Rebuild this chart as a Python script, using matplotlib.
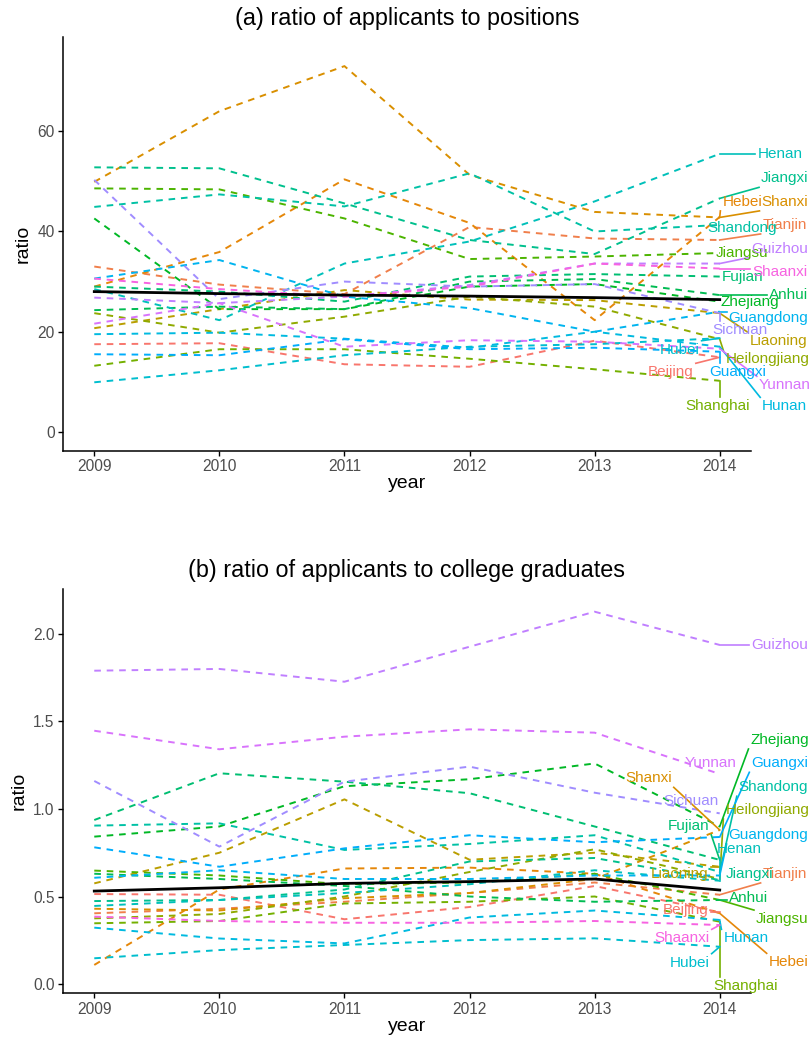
import numpy as np
import matplotlib
matplotlib.use('Agg')
import matplotlib.pyplot as plt

plt.rcParams['font.family'] = ['Liberation Sans', 'DejaVu Sans']

years = [2009, 2010, 2011, 2012, 2013, 2014]

# all 31 provinces, only used for the colour order of the palette
palette_order = ['Beijing', 'Tianjin', 'Hebei', 'Shanxi', 'Inner Mongolia', 'Liaoning', 'Jilin',
                 'Heilongjiang', 'Shanghai', 'Jiangsu', 'Zhejiang', 'Anhui', 'Fujian', 'Jiangxi',
                 'Shandong', 'Henan', 'Hubei', 'Hunan', 'Guangdong', 'Guangxi', 'Hainan',
                 'Chongqing', 'Sichuan', 'Guizhou', 'Yunnan', 'Tibet', 'Shaanxi', 'Gansu',
                 'Qinghai', 'Ningxia', 'Xinjiang']

provinces = ['Beijing', 'Tianjin', 'Hebei', 'Shanxi', 'Liaoning', 'Heilongjiang', 'Shanghai',
             'Jiangsu', 'Zhejiang', 'Anhui', 'Fujian', 'Jiangxi', 'Shandong', 'Henan', 'Hubei',
             'Hunan', 'Guangdong', 'Guangxi', 'Sichuan', 'Guizhou', 'Yunnan', 'Shaanxi']

# (a) applicants / positions
a_beijing = [17.5, 17.7, 13.5, 13.0, 18.2, 14.9]
a_tianjin = [33.0, 29.4, 27.5, 40.9, 38.6, 38.3]
a_hebei = [29.0, 35.9, 50.4, 41.7, 22.3, 42.9]
a_shanxi = [49.9, 64.0, 73.0, 51.3, 43.9, 42.8]
a_liaoning = [20.7, 24.5, 28.3, 26.4, 26.3, 23.7]
a_heilongjiang = [23.7, 19.8, 23.0, 27.0, 25.0, 18.5]
a_shanghai = [13.2, 16.5, 16.5, 14.6, 12.5, 10.2]
a_jiangsu = [48.6, 48.4, 42.6, 34.5, 35.0, 35.7]
a_zhejiang = [42.6, 24.5, 24.5, 29.0, 29.5, 26.0]
a_anhui = [24.3, 25.0, 24.5, 30.0, 30.5, 27.3]
a_fujian = [29.0, 28.0, 26.0, 31.0, 31.5, 31.0]
a_jiangxi = [52.8, 52.6, 45.6, 38.3, 35.5, 46.6]
a_shandong = [44.9, 47.4, 45.0, 51.6, 40.0, 41.3]
a_henan = [28.5, 22.3, 33.6, 38.0, 46.0, 55.5]
a_hubei = [9.9, 12.3, 15.3, 17.0, 17.5, 18.7]
a_hunan = [19.5, 19.8, 18.6, 16.8, 20.0, 17.0]
a_guangdong = [30.6, 34.3, 27.0, 24.7, 20.0, 24.0]
a_guangxi = [15.5, 15.3, 18.5, 16.5, 16.8, 16.0]
a_sichuan = [50.3, 26.5, 30.0, 29.0, 29.5, 23.7]
a_guizhou = [26.8, 25.7, 27.0, 29.3, 33.6, 33.6]
a_yunnan = [21.6, 25.7, 17.0, 18.3, 18.0, 16.6]
a_shaanxi = [30.6, 28.5, 27.0, 29.0, 33.6, 32.6]
a_average = [28.0, 27.6, 27.3, 27.1, 26.8, 26.4]

# (b) applicants / college graduates
b_beijing = [0.514, 0.51, 0.37, 0.44, 0.56, 0.41]
b_tianjin = [0.404, 0.43, 0.47, 0.52, 0.58, 0.51]
b_hebei = [0.109, 0.54, 0.66, 0.665, 0.63, 0.404]
b_shanxi = [0.43, 0.42, 0.49, 0.52, 0.60, 0.88]
b_liaoning = [0.575, 0.75, 1.055, 0.71, 0.75, 0.67]
b_heilongjiang = [0.375, 0.40, 0.50, 0.64, 0.77, 0.60]
b_shanghai = [0.347, 0.36, 0.46, 0.47, 0.50, 0.356]
b_jiangsu = [0.648, 0.62, 0.57, 0.58, 0.63, 0.48]
b_zhejiang = [0.842, 0.90, 1.13, 1.17, 1.26, 0.90]
b_anhui = [0.63, 0.60, 0.56, 0.50, 0.47, 0.48]
b_fujian = [0.937, 1.204, 1.156, 1.09, 0.90, 0.709]
b_jiangxi = [0.474, 0.48, 0.54, 0.70, 0.72, 0.594]
b_shandong = [0.905, 0.918, 0.766, 0.80, 0.85, 0.64]
b_henan = [0.446, 0.48, 0.52, 0.57, 0.65, 0.59]
b_hubei = [0.147, 0.194, 0.223, 0.251, 0.261, 0.213]
b_hunan = [0.322, 0.26, 0.232, 0.38, 0.42, 0.366]
b_guangdong = [0.607, 0.65, 0.60, 0.60, 0.62, 0.62]
b_guangxi = [0.781, 0.67, 0.775, 0.85, 0.81, 0.84]
b_sichuan = [1.16, 0.785, 1.156, 1.242, 1.093, 0.975]
b_guizhou = [1.79, 1.80, 1.727, 1.927, 2.127, 1.937]
b_yunnan = [1.447, 1.341, 1.413, 1.455, 1.436, 1.20]
b_shaanxi = [0.385, 0.36, 0.35, 0.35, 0.36, 0.337]
b_average = [0.531, 0.55, 0.575, 0.585, 0.60, 0.537]

series_a = [a_beijing, a_tianjin, a_hebei, a_shanxi, a_liaoning, a_heilongjiang, a_shanghai,
            a_jiangsu, a_zhejiang, a_anhui, a_fujian, a_jiangxi, a_shandong, a_henan, a_hubei,
            a_hunan, a_guangdong, a_guangxi, a_sichuan, a_guizhou, a_yunnan, a_shaanxi]
series_b = [b_beijing, b_tianjin, b_hebei, b_shanxi, b_liaoning, b_heilongjiang, b_shanghai,
            b_jiangsu, b_zhejiang, b_anhui, b_fujian, b_jiangxi, b_shandong, b_henan, b_hubei,
            b_hunan, b_guangdong, b_guangxi, b_sichuan, b_guizhou, b_yunnan, b_shaanxi]

# where the repelled labels ended up (year, value)
labels_a = {'Henan': (2014.48, 55.4), 'Jiangxi': (2014.52, 50.6), 'Hebei': (2014.18, 45.9),
            'Shanxi': (2014.52, 45.9), 'Tianjin': (2014.52, 41.3), 'Shandong': (2014.18, 40.6),
            'Guizhou': (2014.48, 36.6), 'Jiangsu': (2014.18, 35.7), 'Shaanxi': (2014.48, 31.9),
            'Fujian': (2014.18, 30.9), 'Anhui': (2014.55, 27.3), 'Zhejiang': (2014.24, 25.9),
            'Guangdong': (2014.39, 22.8), 'Sichuan': (2014.16, 20.4), 'Liaoning': (2014.47, 18.1),
            'Hubei': (2013.68, 16.4), 'Heilongjiang': (2014.38, 14.5), 'Beijing': (2013.61, 11.9),
            'Guangxi': (2014.14, 11.9), 'Yunnan': (2014.52, 9.3), 'Shanghai': (2013.98, 5.1),
            'Hunan': (2014.52, 5.1)}
labels_b = {'Guizhou': (2014.48, 1.937), 'Zhejiang': (2014.48, 1.394), 'Yunnan': (2013.93, 1.265),
            'Guangxi': (2014.48, 1.261), 'Shanxi': (2013.43, 1.175), 'Shandong': (2014.43, 1.124),
            'Sichuan': (2013.77, 1.047), 'Heilongjiang': (2014.38, 0.994), 'Fujian': (2013.75, 0.903),
            'Guangdong': (2014.39, 0.851), 'Henan': (2014.16, 0.769), 'Liaoning': (2013.68, 0.629),
            'Jiangxi': (2014.24, 0.629), 'Tianjin': (2014.52, 0.629), 'Anhui': (2014.23, 0.493),
            'Beijing': (2013.73, 0.423), 'Jiangsu': (2014.50, 0.371), 'Shaanxi': (2013.70, 0.261),
            'Hunan': (2014.21, 0.261), 'Hebei': (2014.55, 0.124), 'Hubei': (2013.76, 0.122),
            'Shanghai': (2014.21, -0.011)}


def hcl_hex(h, c=100.0, l=65.0):
    # polar LUV -> sRGB, same as R's hcl()
    hr = np.deg2rad(h)
    u, v = c * np.cos(hr), c * np.sin(hr)
    xn, yn, zn = 95.047, 100.0, 108.883
    y = yn * ((l + 16) / 116) ** 3
    un = 4 * xn / (xn + 15 * yn + 3 * zn)
    vn = 9 * yn / (xn + 15 * yn + 3 * zn)
    up = u / (13 * l) + un
    vp = v / (13 * l) + vn
    x = 9 * y * up / (4 * vp)
    z = -x / 3 - 5 * y + 3 * y / vp
    x, y, z = x / 100, y / 100, z / 100
    rgb = np.array([3.240479 * x - 1.537150 * y - 0.498535 * z,
                    -0.969256 * x + 1.875992 * y + 0.041556 * z,
                    0.055648 * x - 0.204043 * y + 1.057311 * z])
    rgb = np.where(rgb <= 0.0031308, 12.92 * rgb, 1.055 * np.abs(rgb) ** (1 / 2.4) - 0.055)
    return tuple(np.clip(rgb, 0, 1))


n_pal = len(palette_order)
colors = {p: hcl_hex(15 + palette_order.index(p) * 360.0 / n_pal) for p in provinces}

W, H = 809, 1049
fig = plt.figure(figsize=(W / 100, H / 100), dpi=100)
ax_left, ax_right = 63, 751
ax_a = fig.add_axes([ax_left / W, 1 - 450.7 / H, (ax_right - ax_left) / W, (450.7 - 37.3) / H])
ax_b = fig.add_axes([ax_left / W, 1 - 993.3 / H, (ax_right - ax_left) / W, (993.3 - 589.3) / H])


def draw_panel(ax, series, average, labels, title, ylim, yticks, fmt):
    for name, vals in zip(provinces, series):
        ax.plot(years, vals, color=colors[name], lw=1.4, dashes=(3.4, 3.0), zorder=2)
    ax.plot(years, average, color='black', lw=2.0, zorder=3)

    ax.set_xlim(2008.75, 2014.25)
    ax.set_ylim(*ylim)
    ax.set_xticks(years)
    ax.set_yticks(yticks)
    ax.set_yticklabels([fmt.format(t) for t in yticks])
    for s in ['top', 'right']:
        ax.spines[s].set_visible(False)
    for s in ['left', 'bottom']:
        ax.spines[s].set_linewidth(1.1)
    ax.tick_params(length=3.5, width=1.0, labelsize=11.2, labelcolor='#4D4D4D', pad=2.5)
    ax.set_xlabel('year', fontsize=14, labelpad=1)
    ax.set_ylabel('ratio', fontsize=14, labelpad=4)
    ax.set_title(title, fontsize=16.8, pad=9)

    texts = []
    for name, vals in zip(provinces, series):
        lx, ly = labels[name]
        t = ax.text(lx, ly, name, color=colors[name], fontsize=11, ha='center', va='center',
                    clip_on=False, zorder=5)
        texts.append((t, (years[-1], vals[-1]), colors[name]))
    return texts


texts_a = draw_panel(ax_a, series_a, a_average, labels_a,
                     '(a) ratio of applicants to positions', (-3.75, 78.75), [0, 20, 40, 60], '{:d}')
texts_b = draw_panel(ax_b, series_b, b_average, labels_b,
                     '(b) ratio of applicants to college graduates', (-0.053, 2.255),
                     [0.0, 0.5, 1.0, 1.5, 2.0], '{:.1f}')

# leader segments from the 2014 point to the nearest edge of its label box
fig.canvas.draw()
renderer = fig.canvas.get_renderer()
for ax, texts in [(ax_a, texts_a), (ax_b, texts_b)]:
    inv = ax.transData.inverted()
    for t, pt, col in texts:
        bb = t.get_window_extent(renderer).padded(2)
        px, py = ax.transData.transform(pt)
        nx = min(max(px, bb.x0), bb.x1)
        ny = min(max(py, bb.y0), bb.y1)
        if np.hypot(nx - px, ny - py) < 6:
            continue
        p0 = inv.transform((px, py))
        p1 = inv.transform((nx, ny))
        ax.plot([p0[0], p1[0]], [p0[1], p1[1]], color=col, lw=1.2, clip_on=False, zorder=4)

fig.savefig('out.png', dpi=100)
